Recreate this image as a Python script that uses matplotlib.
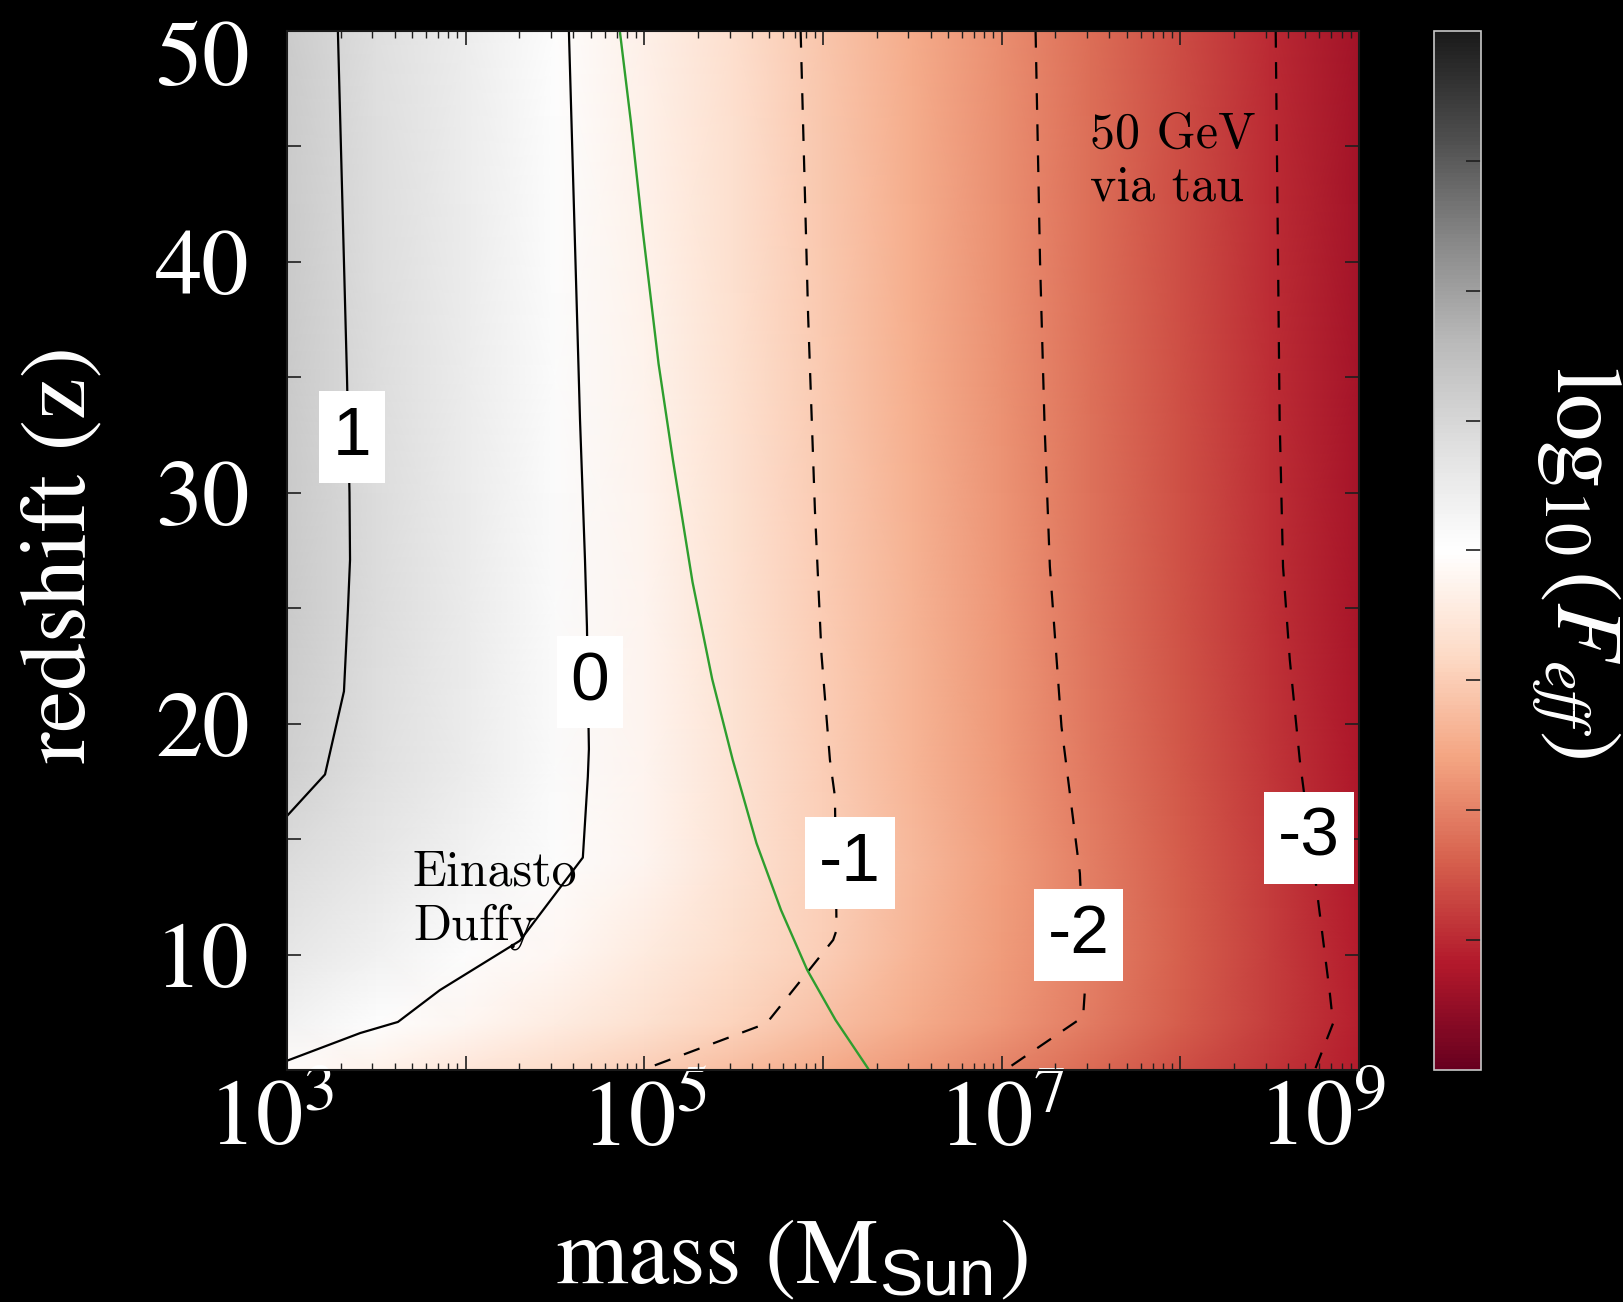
import numpy as np
import matplotlib
matplotlib.use('Agg')
import matplotlib.pyplot as plt
import matplotlib.ticker as mticker
from matplotlib.transforms import ScaledTranslation

plt.rcParams['font.family'] = 'STIXGeneral'
plt.rcParams['mathtext.fontset'] = 'custom'
plt.rcParams['mathtext.rm'] = 'STIXGeneral'
plt.rcParams['mathtext.it'] = 'STIXGeneral:italic'
plt.rcParams['mathtext.bf'] = 'STIXGeneral:bold'
plt.rcParams['mathtext.sf'] = 'Liberation Sans'

# log10(F_eff): rows follow z_grid, columns log_mass_grid
log_mass_grid = [3.0, 3.5, 4.0, 4.5, 5.0, 5.5, 6.0, 6.5, 7.0, 7.5, 8.0, 8.5, 9.0]
z_grid = [5, 7, 10, 14, 18, 25, 35, 50]
log_feff = [
    [-0.07, -0.30, -0.54, -0.77, -1.00, -1.25, -1.50, -1.74, -1.99, -2.28, -2.57, -2.86, -3.15],
    [0.33, 0.06, -0.19, -0.43, -0.67, -0.91, -1.19, -1.48, -1.77, -2.07, -2.41, -2.76, -3.10],
    [0.62, 0.36, 0.09, -0.18, -0.45, -0.73, -1.00, -1.35, -1.69, -2.03, -2.40, -2.77, -3.14],
    [0.88, 0.61, 0.34, 0.07, -0.25, -0.60, -0.95, -1.31, -1.68, -2.05, -2.43, -2.81, -3.20],
    [1.15, 0.81, 0.47, 0.13, -0.23, -0.60, -0.97, -1.35, -1.72, -2.10, -2.49, -2.87, -3.25],
    [1.26, 0.88, 0.51, 0.13, -0.25, -0.63, -1.02, -1.40, -1.78, -2.16, -2.55, -2.93, -3.31],
    [1.26, 0.87, 0.49, 0.10, -0.28, -0.67, -1.05, -1.44, -1.82, -2.20, -2.58, -2.96, -3.34],
    [1.22, 0.83, 0.45, 0.06, -0.33, -0.71, -1.10, -1.48, -1.86, -2.23, -2.60, -2.98, -3.35],
]

# contour lines (log10 mass, redshift)
contour_levels = [1, 0, -1, -2, -3]
c1_logm = [3.285, 3.336, 3.350, 3.353, 3.341, 3.319, 3.213, 3.0]
c1_z = [50, 35, 30, 27.1, 24.9, 21.4, 17.8, 16.0]
c0_logm = [4.578, 4.640, 4.668, 4.679, 4.690, 4.684, 4.656, 4.304, 3.856, 3.621, 3.410, 3.0]
c0_z = [50, 33.2, 27.1, 24.2, 18.9, 17.7, 14.2, 10.6, 8.46, 7.08, 6.6, 5.4]
cm1_logm = [5.875, 5.917, 5.955, 5.992, 6.039, 6.067, 6.076, 6.057, 5.684, 4.99]
cm1_z = [50, 37.65, 29.25, 22.97, 18.43, 16.84, 11.06, 10.63, 7.02, 5.0]
cm2_logm = [7.19, 7.215, 7.24, 7.27, 7.335, 7.438, 7.466, 7.456, 7.02]
cm2_z = [50, 40, 33, 26.8, 19.87, 13.52, 8.46, 7.3, 5.0]
cm3_logm = [8.534, 8.556, 8.575, 8.613, 8.669, 8.771, 8.837, 8.855, 8.753]
cm3_z = [50, 33.2, 26.8, 22.76, 18.4, 12.36, 8.32, 7.02, 5.0]
contour_logm = [c1_logm, c0_logm, cm1_logm, cm2_logm, cm3_logm]
contour_z = [c1_z, c0_z, cm1_z, cm2_z, cm3_z]

# where the inline labels sit on each contour
label_logm = [3.364, 4.696, 6.150, 7.430, 8.721]
label_z = [32.4, 21.8, 13.95, 10.83, 15.05]

# green curve
green_logm = [4.863, 4.925, 4.990, 5.080, 5.161, 5.270, 5.380, 5.495,
              5.628, 5.765, 5.912, 6.070, 6.252]
green_z = [50, 46.06, 41.44, 35.58, 31.38, 26.13, 21.93, 18.43,
           14.82, 11.93, 9.33, 7.17, 5.07]

x_major = [1e3, 1e4, 1e5, 1e6, 1e7, 1e8, 1e9]
y_major = [10, 20, 30, 40, 50]

fig = plt.figure(figsize=(16.24, 13.02), dpi=100, facecolor='black')
ax = fig.add_axes([0.1767, 0.1782, 0.6601, 0.798])
cax = fig.add_axes([0.883, 0.1782, 0.0289, 0.798])

ax.set_xscale('log')
M, Z = np.meshgrid(10 ** np.array(log_mass_grid), z_grid)
mesh = ax.pcolormesh(M, Z, np.array(log_feff), shading='gouraud',
                     cmap='RdGy', vmin=-4, vmax=4)

for lev, lm, zz in zip(contour_levels, contour_logm, contour_z):
    ls = '-' if lev >= 0 else (0, (7.5, 6.5))
    ax.plot(10 ** np.array(lm), zz, color='black', lw=1.6, ls=ls)

ax.plot(10 ** np.array(green_logm), green_z, color='#2e9e2e', lw=1.7)

for lev, lm, zz in zip(contour_levels, label_logm, label_z):
    ax.text(10 ** lm, zz, str(lev), fontsize=50, family='Liberation Sans',
            ha='center', va='center', zorder=5,
            bbox=dict(boxstyle='square,pad=0.2', fc='white', ec='none'))

ax.text(0.1175, 0.2117, 'Einasto\nDuffy', family='cmr10', fontsize=36,
        ha='left', va='top', transform=ax.transAxes)
ax.text(0.749, 0.922, '50 GeV\nvia tau', family='cmr10', fontsize=36,
        ha='left', va='top', transform=ax.transAxes)

ax.set_xlim(1e3, 1e9)
ax.set_ylim(5, 50)

ax.xaxis.set_major_locator(mticker.FixedLocator(x_major))
ax.xaxis.set_minor_locator(mticker.FixedLocator(
    [m * 10.0 ** k for k in range(3, 9) for m in range(2, 10)]))
ax.xaxis.set_major_formatter(mticker.FuncFormatter(
    lambda v, p: '$10^{%d}$' % round(np.log10(v)) if round(np.log10(v)) % 2 == 1 else ''))
ax.xaxis.set_minor_formatter(mticker.NullFormatter())
ax.yaxis.set_major_locator(mticker.FixedLocator(y_major))
ax.yaxis.set_minor_locator(mticker.MultipleLocator(5))

ax.tick_params(which='both', direction='in', top=True, right=True,
               color='#1e1e1e', labelcolor='white')
ax.tick_params(which='major', length=10, width=1.2, labelsize=68)
ax.tick_params(axis='y', which='minor', length=10, width=1.2)
ax.tick_params(axis='x', which='minor', length=5, width=1.0)
ax.tick_params(axis='y', pad=27)
ax.tick_params(axis='x', pad=8)
for sp in ax.spines.values():
    sp.set_color('#1a1a1a')
    sp.set_linewidth(1.5)

ax.set_ylabel('redshift (z)', color='white', fontsize=68, va='center')
ax.yaxis.set_label_coords(-0.209, 0.496)
ax.set_xlabel(r'mass (M$_{\mathsf{Sun}}$)', color='white', fontsize=67, va='center')
ax.xaxis.set_label_coords(0.471, -0.184)

cb = fig.colorbar(mesh, cax=cax, ticks=[-3, -2, -1, 0, 1, 2, 3])
cb.ax.tick_params(direction='in', length=11, width=1.2, color='#1e1e1e',
                  labelright=False, right=True)
cb.outline.set_edgecolor('#c8c8c8')
cb.outline.set_linewidth(1.2)
cb.set_label(r'$\mathrm{log}_{10}\,(F_{eff})$', rotation=270, color='white',
             fontsize=68, va='center')
cb.ax.yaxis.set_label_coords(3.04, 0.489)

# nudge the edge tick labels the way the original slide has them
xt = ax.xaxis.get_major_ticks()
xt[0].label1.set_transform(xt[0].label1.get_transform()
                           + ScaledTranslation(-0.16, 0, fig.dpi_scale_trans))
xt[-1].label1.set_transform(xt[-1].label1.get_transform()
                            + ScaledTranslation(-0.37, 0, fig.dpi_scale_trans))
yt = ax.yaxis.get_major_ticks()
yt[-1].label1.set_transform(yt[-1].label1.get_transform()
                            + ScaledTranslation(0, -0.22, fig.dpi_scale_trans))

fig.savefig('out.png', dpi=100, facecolor='black')
